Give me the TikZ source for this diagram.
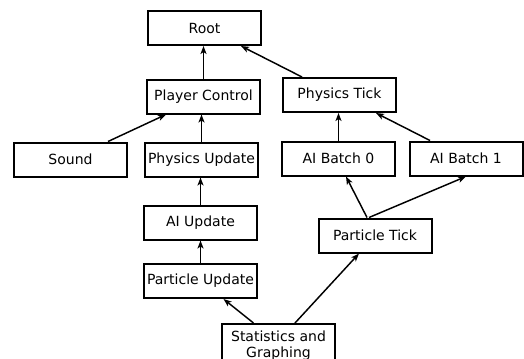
\documentclass[tikz,border=0pt]{standalone}
\usepackage{fontspec}
\setmainfont{DejaVu Sans}
\usetikzlibrary{arrows.meta,calc}
\begin{document}
\begin{tikzpicture}[x=0.75pt,y=-0.75pt,
  task/.style={draw,line width=1.5pt,minimum width=113*0.75pt,minimum height=34*0.75pt,
    inner sep=0pt,font=\fontsize{10.5}{11.5}\selectfont,align=center},
  arr/.style={line width=1.1pt,-{Stealth[length=6pt,width=4.5pt,inset=1.5pt]}}]
\useasboundingbox (0,0) rectangle (524,358);
\clip (0,0) rectangle (524,358);
% task boxes
\node[task] (root)  at (204.5,28)   {Root};
\node[task] (pc)    at (203.5,96.5) {Player Control};
\node[task] (ptick) at (339.5,95)   {Physics Tick};
\node[task] (sound) at (70.5,159.5) {Sound};
\node[task] (pupd)  at (201.5,159.5){Physics Update};
\node[task] (ab0)   at (338.5,158.5){AI Batch 0};
\node[task] (ab1)   at (466,158.5)  {AI Batch 1};
\node[task] (aiupd) at (200.5,222.5){AI Update};
\node[task] (partt) at (375,235.5)  {Particle Tick};
\node[task] (partu) at (200.5,281)  {Particle Update};
\node[task,minimum height=43*0.75pt] (stats) at (278.5,345.5) {Statistics and\\Graphing};
% dependencies
\draw[arr] (pc.north) -- (pc.north |- root.south);
\draw[arr] ($(ptick.north)+(-37.5,0)$) -- ($(root.south)+(36.5,0)$);
\draw[arr] ($(sound.north)+(37.5,0)$) -- ($(pc.south)+(-37.5,0)$);
\draw[arr] (pupd.north) -- (pupd.north |- pc.south);
\draw[arr] (aiupd.north) -- (aiupd.north |- pupd.south);
\draw[arr] (partu.north) -- (partu.north |- aiupd.south);
\draw[arr] (ab0.north) -- (ab0.north |- ptick.south);
\draw[arr] ($(ab1.north)+(-36,0)$) -- ($(ptick.south)+(36.5,0)$);
\draw[arr] ($(partt.north)+(-8,0)$) -- ($(ab0.south)+(7.5,0)$);
\draw[arr] ($(partt.north)+(-6,0)$) -- (ab1.south);
\draw[arr] ($(stats.north)+(-25,0)$) -- ($(partu.south)+(23,0)$);
\draw[arr] ($(stats.north)+(16.5,0)$) -- ($(partt.south)+(-16,0)$);
\end{tikzpicture}
\end{document}
